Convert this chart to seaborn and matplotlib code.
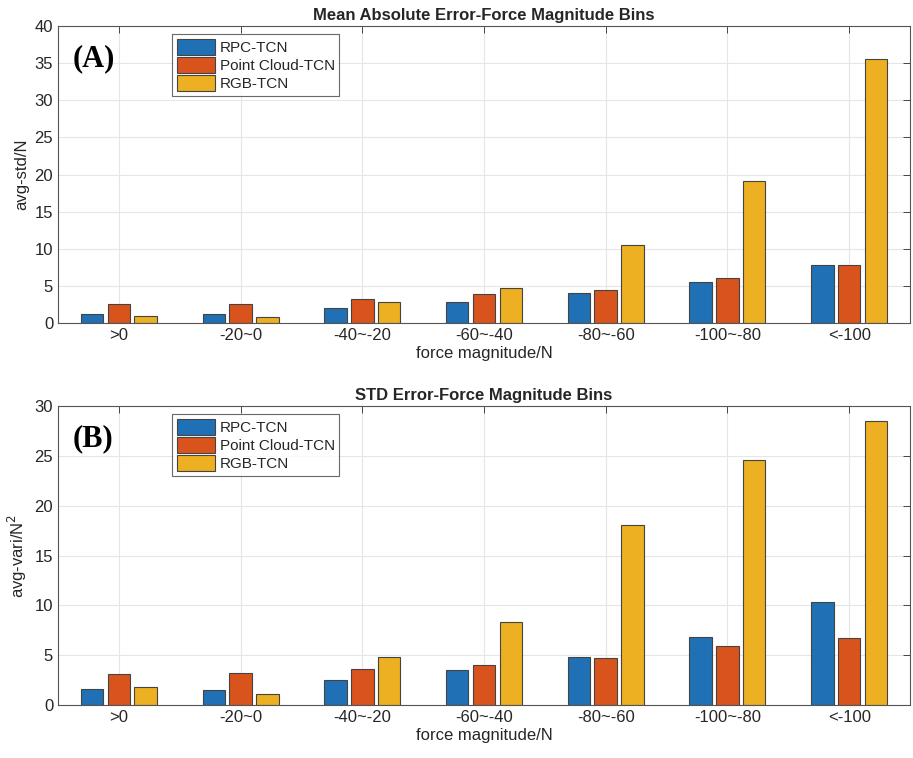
import matplotlib
matplotlib.use("Agg")
import matplotlib.pyplot as plt
import seaborn as sns
import pandas as pd
from matplotlib.patches import Patch

# Force-magnitude bins and per-model errors
bins = [">0", "-20~0", "-40~-20", "-60~-40", "-80~-60", "-100~-80", "<-100"]
models = ["RPC-TCN", "Point Cloud-TCN", "RGB-TCN"]

mae_rpc = [1.25, 1.15, 2.0, 2.8, 4.0, 5.55, 7.8]
mae_pc = [2.6, 2.55, 3.2, 3.85, 4.5, 6.0, 7.8]
mae_rgb = [1.0, 0.8, 2.8, 4.7, 10.5, 19.1, 35.6]

std_rpc = [1.6, 1.5, 2.47, 3.55, 4.83, 6.78, 10.36]
std_pc = [3.15, 3.2, 3.6, 4.0, 4.73, 5.87, 6.75]
std_rgb = [1.79, 1.07, 4.77, 8.34, 18.1, 24.6, 28.5]

colors = ["#1F70B4", "#D9531C", "#ECB022"]

sns.set_theme(style="white")
plt.rcParams["font.family"] = ["Liberation Sans", "DejaVu Sans"]


def tidy(a, b, c):
    rows = []
    for name, vals in zip(models, (a, b, c)):
        for cat, v in zip(bins, vals):
            rows.append({"bin": cat, "model": name, "value": v})
    return pd.DataFrame(rows)


fig = plt.figure(figsize=(9.13, 7.58), dpi=100)
W, H = 913, 758
ax1 = fig.add_axes([58 / W, 1 - 323 / H, 852 / W, 297 / H])
ax2 = fig.add_axes([58 / W, 1 - 705 / H, 852 / W, 299 / H])

panels = [
    (ax1, tidy(mae_rpc, mae_pc, mae_rgb), "Mean Absolute Error-Force Magnitude Bins",
     "avg-std/N", (0, 40), range(0, 41, 5), "(A)"),
    (ax2, tidy(std_rpc, std_pc, std_rgb), "STD Error-Force Magnitude Bins",
     "avg-vari/N$^2$", (0, 30), range(0, 31, 5), "(B)"),
]

for ax, df, title, ylab, ylim, yticks, tag in panels:
    sns.barplot(data=df, x="bin", y="value", hue="model", order=bins,
                hue_order=models, palette=colors, width=0.66, gap=0.16,
                edgecolor="#444444", linewidth=0.8, saturation=1,
                errorbar=None, legend=False, ax=ax)
    ax.set_xlim(-0.5, 6.5)
    ax.set_ylim(*ylim)
    ax.set_yticks(list(yticks))
    ax.set_title(title, fontsize=12, fontweight="bold", pad=4)
    ax.set_xlabel("force magnitude/N", fontsize=12, labelpad=2)
    ax.set_ylabel(ylab, fontsize=12, labelpad=4)
    ax.grid(True, color="#e6e6e6", linewidth=0.8)
    ax.set_axisbelow(True)
    ax.tick_params(axis="both", direction="in", top=True, right=True,
                   length=5, width=0.7, color="#444444", labelsize=12,
                   labelcolor="#262626")
    for s in ax.spines.values():
        s.set_color("#555555")
        s.set_linewidth(0.8)
    handles = [Patch(facecolor=c, edgecolor="#444444", linewidth=0.8) for c in colors]
    leg = ax.legend(handles, models, loc="upper left", bbox_to_anchor=(0.134, 0.972),
                    fontsize=11, frameon=True, fancybox=False, handlelength=2.5,
                    handleheight=1.25, handletextpad=0.3, borderpad=0.3,
                    labelspacing=0.12, borderaxespad=0)
    leg.get_frame().set_edgecolor("#444444")
    leg.get_frame().set_linewidth(0.8)
    ax.text(0.017, 0.94, tag, transform=ax.transAxes, fontsize=22,
            fontweight="bold", family=["Liberation Serif", "DejaVu Serif"],
            va="top", ha="left", color="black")

fig.savefig("out.png", dpi=100)
